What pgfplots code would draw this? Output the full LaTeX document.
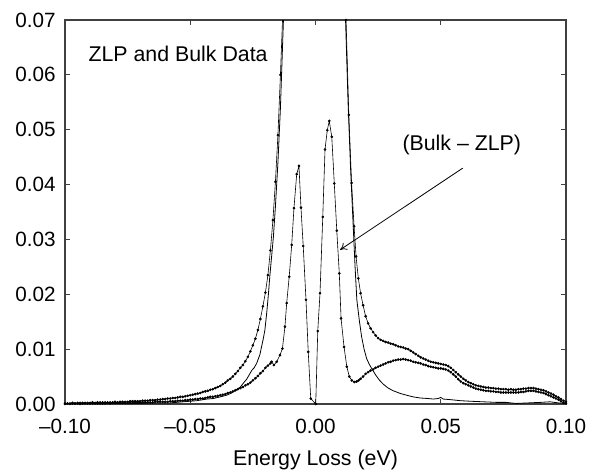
\documentclass[border=0pt]{standalone}
\usepackage{pgfplots}
\pgfplotsset{compat=1.18}
\usepackage{fontspec}
\setmainfont{Liberation Sans}
\usetikzlibrary{arrows.meta}

\pgfplotstableread{
x y
-0.100 0.0001
-0.090 0.0001
-0.080 0.0001
-0.070 0.0001
-0.065 0.0002
-0.058 0.0002
-0.053 0.0004
-0.0474 0.0006
-0.0434 0.0009
-0.0408 0.0010
-0.0380 0.0013
-0.0355 0.0016
-0.0335 0.0020
-0.0315 0.0026
-0.0300 0.0031
-0.0288 0.0038
-0.0275 0.0045
-0.0261 0.0056
-0.0255 0.0061
-0.0245 0.0066
-0.0235 0.0074
-0.0222 0.0090
-0.0208 0.0120
-0.0202 0.0135
-0.0195 0.0165
-0.0188 0.0200
-0.0182 0.0235
-0.0175 0.0270
-0.0168 0.0305
-0.0160 0.0360
-0.0150 0.0440
-0.0140 0.0540
-0.0128 0.0700
-0.0120 0.0900
0.0115 0.0900
0.0120 0.0700
0.0130 0.0550
0.0140 0.0430
0.0150 0.0330
0.0158 0.0250
0.0165 0.0190
0.0175 0.0152
0.0184 0.0123
0.0194 0.0100
0.0204 0.0083
0.0214 0.0073
0.0224 0.0065
0.0240 0.0053
0.0256 0.0043
0.0271 0.0036
0.0290 0.0029
0.0311 0.0024
0.0340 0.0019
0.0364 0.0016
0.0390 0.0013
0.0417 0.0011
0.0450 0.0010
0.0470 0.0009
0.0490 0.0010
0.0500 0.0012
0.0510 0.0009
0.0537 0.0008
0.0580 0.0006
0.0620 0.0005
0.0670 0.0004
0.0720 0.0003
0.0760 0.0003
0.0800 0.0001
0.0850 0.0002
0.0900 0.0003
0.0936 0.0004
0.0970 0.0002
0.1000 0.0002
}\zlp

\pgfplotstableread{
x y
-0.100 0.0001
-0.099 0.0001
-0.098 0.0001
-0.097 0.0002
-0.096 0.0001
-0.095 0.0002
-0.094 0.0002
-0.093 0.0002
-0.092 0.0002
-0.091 0.0002
-0.090 0.0002
-0.089 0.0003
-0.088 0.0002
-0.087 0.0003
-0.086 0.0003
-0.085 0.0003
-0.084 0.0003
-0.083 0.0003
-0.082 0.0003
-0.081 0.0003
-0.080 0.0004
-0.079 0.0003
-0.078 0.0004
-0.077 0.0004
-0.076 0.0004
-0.075 0.0004
-0.074 0.0005
-0.073 0.0005
-0.072 0.0005
-0.071 0.0005
-0.070 0.0005
-0.069 0.0006
-0.068 0.0006
-0.067 0.0006
-0.066 0.0007
-0.065 0.0007
-0.064 0.0007
-0.063 0.0008
-0.062 0.0008
-0.061 0.0009
-0.060 0.0009
-0.059 0.0010
-0.058 0.0010
-0.057 0.0011
-0.056 0.0011
-0.055 0.0012
-0.054 0.0013
-0.053 0.0013
-0.052 0.0014
-0.051 0.0015
-0.050 0.0016
-0.049 0.0017
-0.048 0.0018
-0.047 0.0019
-0.046 0.0020
-0.045 0.0022
-0.044 0.0023
-0.043 0.0024
-0.042 0.0026
-0.041 0.0027
-0.040 0.0029
-0.039 0.0031
-0.038 0.0033
-0.037 0.0036
-0.036 0.0039
-0.035 0.0043
-0.034 0.0046
-0.033 0.0050
-0.032 0.0055
-0.031 0.0060
-0.030 0.0066
-0.029 0.0071
-0.028 0.0078
-0.027 0.0086
-0.026 0.0096
-0.025 0.0107
-0.024 0.0119
-0.023 0.0135
-0.022 0.0155
-0.021 0.0178
-0.020 0.0203
-0.019 0.0235
-0.018 0.0280
-0.017 0.0335
-0.016 0.0405
-0.015 0.0490
-0.014 0.0600
-0.013 0.0720
-0.012 0.0900
0.0115 0.0900
0.0122 0.0700
0.0133 0.0527
0.0144 0.0403
0.0154 0.0324
0.0162 0.0269
0.0171 0.0229
0.018 0.0202
0.019 0.0180
0.020 0.0160
0.021 0.0147
0.022 0.0138
0.023 0.0131
0.024 0.0125
0.025 0.0120
0.026 0.0117
0.027 0.0115
0.028 0.0113
0.029 0.0112
0.030 0.0110
0.031 0.0109
0.032 0.0107
0.033 0.0105
0.034 0.0104
0.035 0.0103
0.036 0.0101
0.037 0.0100
0.038 0.0097
0.039 0.0094
0.040 0.0091
0.041 0.0088
0.042 0.0085
0.043 0.0083
0.044 0.0081
0.045 0.0079
0.046 0.0077
0.047 0.0076
0.048 0.0075
0.049 0.0074
0.050 0.0073
0.051 0.0072
0.052 0.0071
0.053 0.0069
0.054 0.0066
0.055 0.0062
0.056 0.0058
0.057 0.0054
0.058 0.0050
0.059 0.0046
0.060 0.0043
0.061 0.0040
0.062 0.0038
0.063 0.0036
0.064 0.0034
0.065 0.0033
0.066 0.0032
0.067 0.0031
0.068 0.0030
0.069 0.0030
0.070 0.0029
0.071 0.0029
0.072 0.0028
0.073 0.0028
0.074 0.0027
0.075 0.0027
0.076 0.0027
0.077 0.0026
0.078 0.0027
0.079 0.0026
0.080 0.0026
0.081 0.0027
0.082 0.0027
0.083 0.0028
0.084 0.0028
0.085 0.0029
0.086 0.0029
0.087 0.0029
0.088 0.0028
0.089 0.0027
0.090 0.0026
0.091 0.0025
0.092 0.0023
0.093 0.0021
0.094 0.0019
0.095 0.0017
0.096 0.0014
0.097 0.0012
0.098 0.0009
0.099 0.0006
0.100 0.0004
}\bulk

\pgfplotstableread{
x y
-0.100 0.0000
-0.099 0.0001
-0.098 0.0000
-0.097 0.0001
-0.096 0.0001
-0.095 0.0001
-0.094 0.0000
-0.093 0.0001
-0.092 0.0001
-0.091 0.0001
-0.090 0.0001
-0.089 0.0001
-0.088 0.0001
-0.087 0.0001
-0.086 0.0001
-0.085 0.0001
-0.084 0.0001
-0.083 0.0002
-0.082 0.0001
-0.081 0.0002
-0.080 0.0002
-0.079 0.0002
-0.078 0.0002
-0.077 0.0002
-0.076 0.0002
-0.075 0.0002
-0.074 0.0002
-0.073 0.0002
-0.072 0.0003
-0.071 0.0003
-0.070 0.0003
-0.069 0.0003
-0.068 0.0003
-0.067 0.0003
-0.066 0.0003
-0.065 0.0003
-0.064 0.0004
-0.063 0.0004
-0.062 0.0004
-0.061 0.0004
-0.060 0.0004
-0.059 0.0004
-0.058 0.0005
-0.057 0.0005
-0.056 0.0005
-0.055 0.0006
-0.054 0.0006
-0.053 0.0006
-0.052 0.0007
-0.051 0.0007
-0.050 0.0008
-0.049 0.0008
-0.048 0.0009
-0.047 0.0009
-0.046 0.0010
-0.045 0.0010
-0.044 0.0011
-0.043 0.0012
-0.042 0.0013
-0.041 0.0013
-0.040 0.0014
-0.039 0.0015
-0.038 0.0016
-0.037 0.0017
-0.036 0.0018
-0.035 0.0020
-0.034 0.0021
-0.033 0.0023
-0.032 0.0025
-0.031 0.0027
-0.030 0.0029
-0.029 0.0031
-0.028 0.0034
-0.027 0.0036
-0.026 0.0039
-0.025 0.0043
-0.024 0.0047
-0.023 0.0051
-0.022 0.0056
-0.021 0.0060
-0.020 0.0066
-0.019 0.0070
-0.018 0.0074
-0.0175 0.0077
-0.0166 0.0071
-0.0155 0.0077
-0.0142 0.0089
-0.0132 0.0101
-0.0122 0.0141
-0.0115 0.0184
-0.0105 0.0232
-0.0095 0.0290
-0.0086 0.0357
-0.0075 0.0419
-0.0066 0.0434
-0.0058 0.0358
-0.0049 0.0288
-0.0038 0.0190
-0.0029 0.0095
-0.0019 0.0010
0.0001 0.0000
0.0009 0.0133
0.0018 0.0202
0.0029 0.0341
0.0038 0.0464
0.0047 0.0499
0.0055 0.0516
0.0065 0.0487
0.0075 0.0402
0.0085 0.0316
0.0095 0.0238
0.0102 0.0156
0.0114 0.0104
0.0125 0.0068
0.0135 0.0050
0.0145 0.0043
0.0155 0.0040
0.0164 0.0041
0.0172 0.0043
0.0180 0.0046
0.019 0.0050
0.020 0.0055
0.021 0.0058
0.022 0.0061
0.023 0.0063
0.024 0.0066
0.025 0.0068
0.026 0.0070
0.027 0.0072
0.028 0.0074
0.029 0.0076
0.030 0.0077
0.031 0.0079
0.032 0.0080
0.033 0.0081
0.034 0.0081
0.035 0.0082
0.036 0.0081
0.037 0.0080
0.038 0.0079
0.039 0.0077
0.040 0.0076
0.041 0.0075
0.042 0.0074
0.043 0.0072
0.044 0.0071
0.045 0.0069
0.046 0.0068
0.047 0.0067
0.048 0.0066
0.049 0.0065
0.050 0.0065
0.051 0.0064
0.052 0.0063
0.053 0.0061
0.054 0.0058
0.055 0.0054
0.056 0.0050
0.057 0.0045
0.058 0.0041
0.059 0.0038
0.060 0.0036
0.061 0.0034
0.062 0.0032
0.063 0.0030
0.064 0.0028
0.065 0.0027
0.066 0.0026
0.067 0.0025
0.068 0.0024
0.069 0.0024
0.070 0.0023
0.071 0.0023
0.072 0.0022
0.073 0.0022
0.074 0.0021
0.075 0.0021
0.076 0.0021
0.077 0.0021
0.078 0.0021
0.079 0.0021
0.080 0.0021
0.081 0.0021
0.082 0.0022
0.083 0.0022
0.084 0.0023
0.085 0.0024
0.086 0.0024
0.087 0.0024
0.088 0.0023
0.089 0.0022
0.090 0.0021
0.091 0.0020
0.092 0.0018
0.093 0.0016
0.094 0.0014
0.095 0.0012
0.096 0.0010
0.097 0.0008
0.098 0.0005
0.099 0.0002
0.100 0.0001
}\diff

\begin{document}
\begin{tikzpicture}
\begin{axis}[
  scale only axis,
  width=375.75pt, height=288pt,
  xmin=-0.1, xmax=0.1, ymin=0, ymax=0.07,
  xtick={-0.1,-0.05,0,0.05,0.1},
  xticklabels={\textendash0.10,\textendash0.05,0.00,0.05,0.10},
  ytick={0,0.01,0.02,0.03,0.04,0.05,0.06,0.07},
  yticklabels={0.00,0.01,0.02,0.03,0.04,0.05,0.06,0.07},
  scaled x ticks=false, scaled y ticks=false,
  minor tick num=0,
  tick align=inside,
  major tick length=4pt,
  axis line style={black!75, line width=0.9pt},
  every tick/.style={black!75, line width=0.8pt},
  ticklabel style={font=\fontsize{15.5}{18}\selectfont},
  xticklabel style={yshift=-7.5pt},
  yticklabel style={xshift=-3.5pt},
  xlabel={Energy Loss (eV)},
  xlabel style={font=\fontsize{16}{19}\selectfont, at={(axis description cs:0.5,0)}, anchor=north, yshift=-31pt},
]
\addplot[black, line width=0.6pt, no markers] table {\zlp};
\addplot[black, line width=0.45pt, mark=*, mark size=0.75pt] table {\bulk};
\addplot[black, line width=0.45pt, mark=*, mark size=0.75pt] table {\diff};
\node[anchor=west, inner sep=0, font=\fontsize{16}{19}\selectfont] at (axis cs:-0.0907,0.0639) {ZLP and Bulk Data};
\node[inner sep=0, font=\fontsize{16}{19}\selectfont] at (axis cs:0.0584,0.0472) {(Bulk \textendash{} ZLP)};
\draw[-{To[length=5pt,width=6pt]}, line width=0.6pt] (axis cs:0.0588,0.0430) -- (axis cs:0.0098,0.0281);
\end{axis}
\pgfresetboundingbox
\path (current axis.south west) ++(-48.75pt,-53.25pt) rectangle ++(447pt,356.25pt);
\end{tikzpicture}
\end{document}
